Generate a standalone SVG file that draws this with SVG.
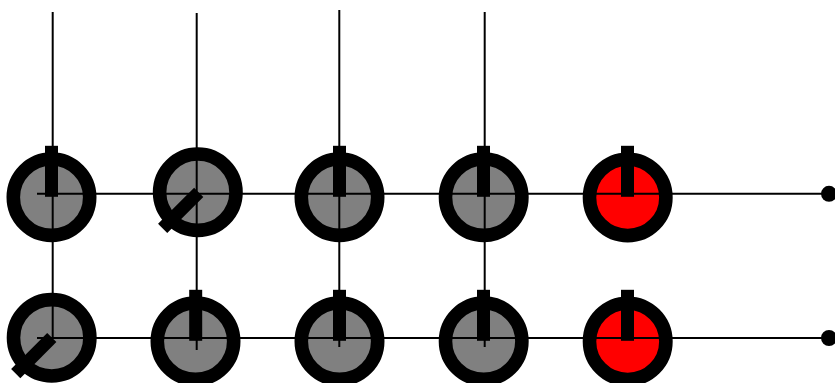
<svg xmlns="http://www.w3.org/2000/svg" width="835" height="383" viewBox="0 0 835 383">
<style>
.ring{stroke:#000;stroke-width:13.6}
.off{fill:#808080}
.on{fill:#f00}
.needle{fill:#000}
.wire{stroke:#000;stroke-width:2;fill:none}
.end{fill:#000}
</style>
<defs>
<rect id="needle" class="needle" x="-6.5" y="-51" width="13" height="51"/>
</defs>
<rect width="835" height="383" fill="#fff"/>
<g id="n00"><circle class="ring off" cx="51.5" cy="197.2" r="38.2"/><use href="#needle" transform="translate(51.5 196.8)"/></g>
<g id="n01"><circle class="ring off" cx="197.8" cy="192.2" r="38.2"/><use href="#needle" transform="translate(198.7 192.3) rotate(225)"/></g>
<g id="n02"><circle class="ring off" cx="339.5" cy="197.2" r="38.2"/><use href="#needle" transform="translate(339.5 196.8)"/></g>
<g id="n03"><circle class="ring off" cx="483.7" cy="197.2" r="38.2"/><use href="#needle" transform="translate(483.5 196.8)"/></g>
<g id="n04"><circle class="ring on" cx="627.7" cy="197.4" r="38.2"/><use href="#needle" transform="translate(627.5 196.8)"/></g>
<g id="n10"><circle class="ring off" cx="51.7" cy="337.8" r="38.2"/><use href="#needle" transform="translate(51.8 337.5) rotate(225)"/></g>
<g id="n11"><circle class="ring off" cx="195.5" cy="341.2" r="38.2"/><use href="#needle" transform="translate(195.7 340.8)"/></g>
<g id="n12"><circle class="ring off" cx="339.5" cy="341.2" r="38.2"/><use href="#needle" transform="translate(339.5 340.8)"/></g>
<g id="n13"><circle class="ring off" cx="483.7" cy="341.2" r="38.2"/><use href="#needle" transform="translate(483.5 340.8)"/></g>
<g id="n14"><circle class="ring on" cx="627.7" cy="341.4" r="38.2"/><use href="#needle" transform="translate(627.5 340.8)"/></g>
<g id="connectors">
<path class="wire" d="M37 193.7H829"/>
<path class="wire" d="M37 338H829"/>
<path class="wire" d="M52.7 12V338"/>
<path class="wire" d="M196.7 13V350"/>
<path class="wire" d="M339.3 10V347"/>
<path class="wire" d="M484.7 12V347"/>
<circle class="end" cx="829" cy="193.8" r="8"/>
<circle class="end" cx="829" cy="338" r="8"/>
</g>
</svg>
